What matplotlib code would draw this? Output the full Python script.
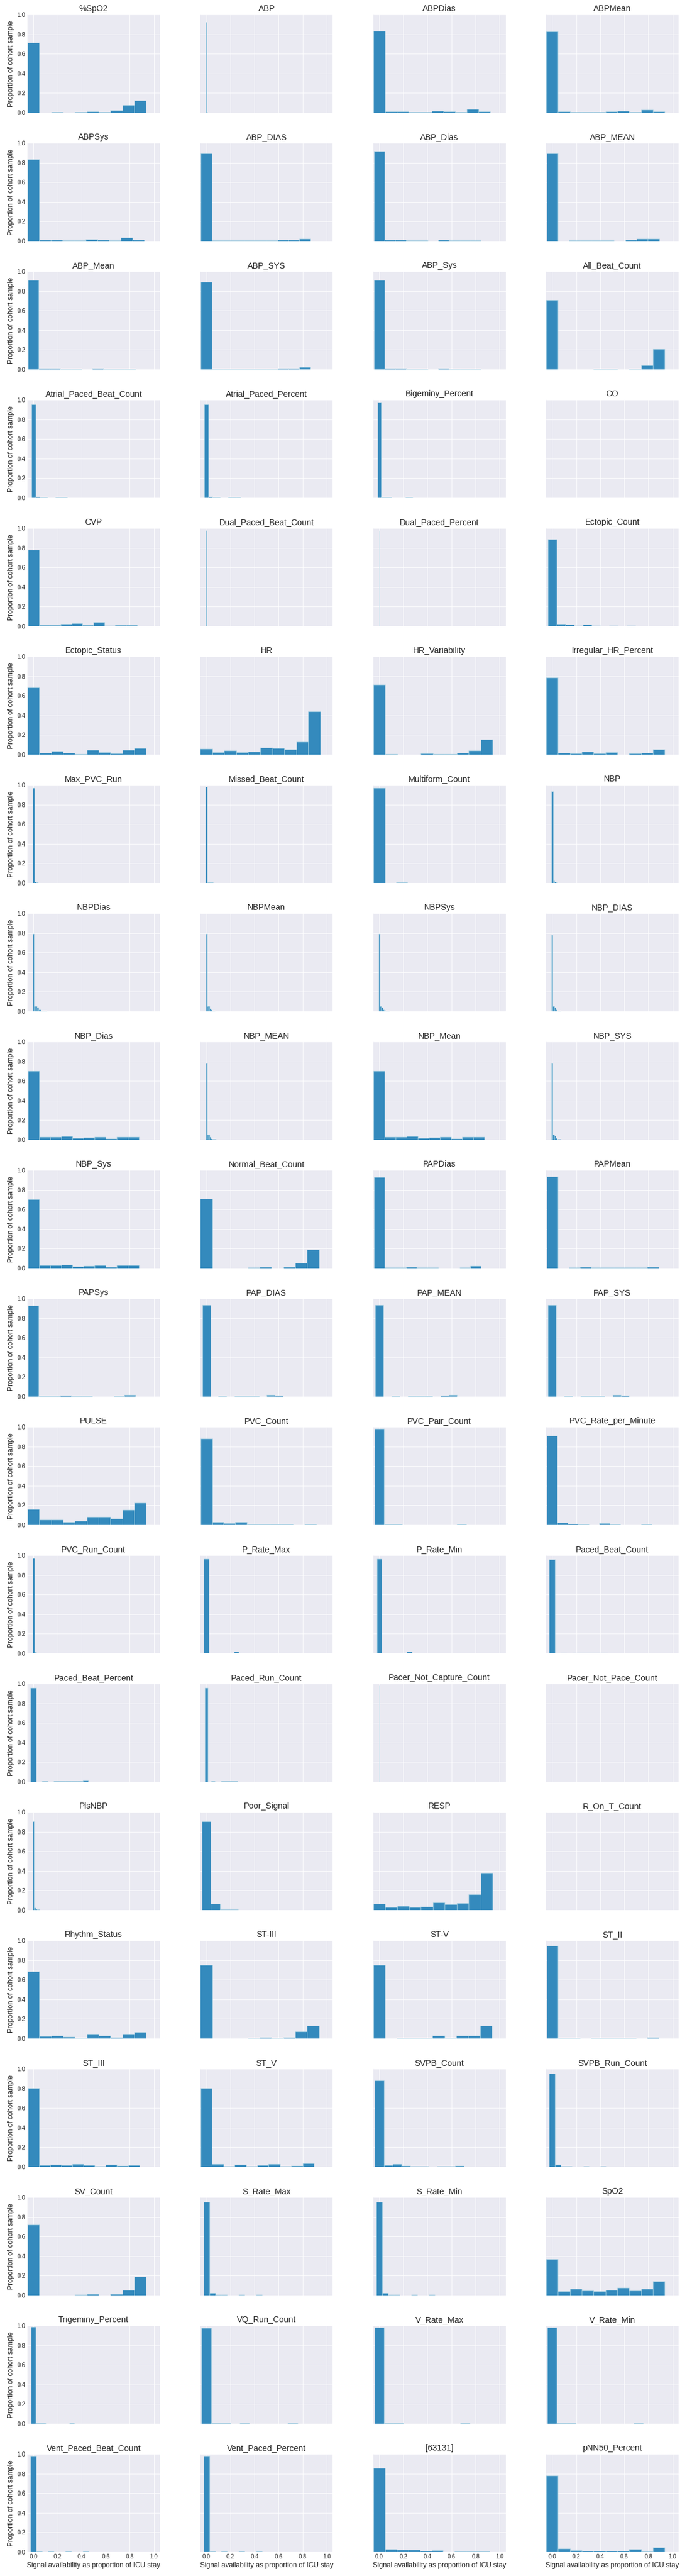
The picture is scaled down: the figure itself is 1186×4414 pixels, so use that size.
import numpy as np
import matplotlib
matplotlib.use("Agg")
import matplotlib.pyplot as plt

# Signal names, one panel each (4 per row)
signals = [
    "%SpO2", "ABP", "ABPDias", "ABPMean",
    "ABPSys", "ABP_DIAS", "ABP_Dias", "ABP_MEAN",
    "ABP_Mean", "ABP_SYS", "ABP_Sys", "All_Beat_Count",
    "Atrial_Paced_Beat_Count", "Atrial_Paced_Percent", "Bigeminy_Percent", "CO",
    "CVP", "Dual_Paced_Beat_Count", "Dual_Paced_Percent", "Ectopic_Count",
    "Ectopic_Status", "HR", "HR_Variability", "Irregular_HR_Percent",
    "Max_PVC_Run", "Missed_Beat_Count", "Multiform_Count", "NBP",
    "NBPDias", "NBPMean", "NBPSys", "NBP_DIAS",
    "NBP_Dias", "NBP_MEAN", "NBP_Mean", "NBP_SYS",
    "NBP_Sys", "Normal_Beat_Count", "PAPDias", "PAPMean",
    "PAPSys", "PAP_DIAS", "PAP_MEAN", "PAP_SYS",
    "PULSE", "PVC_Count", "PVC_Pair_Count", "PVC_Rate_per_Minute",
    "PVC_Run_Count", "P_Rate_Max", "P_Rate_Min", "Paced_Beat_Count",
    "Paced_Beat_Percent", "Paced_Run_Count", "Pacer_Not_Capture_Count", "Pacer_Not_Pace_Count",
    "PlsNBP", "Poor_Signal", "RESP", "R_On_T_Count",
    "Rhythm_Status", "ST-III", "ST-V", "ST_II",
    "ST_III", "ST_V", "SVPB_Count", "SVPB_Run_Count",
    "SV_Count", "S_Rate_Max", "S_Rate_Min", "SpO2",
    "Trigeminy_Percent", "VQ_Run_Count", "V_Rate_Max", "V_Rate_Min",
    "Vent_Paced_Beat_Count", "Vent_Paced_Percent", "[63131]", "pNN50_Percent",
]

# histogram bin width (signal availability) for each signal
bin_width = [
    0.0985, 0.003, 0.097, 0.0985,
    0.0965, 0.091, 0.089, 0.0935,
    0.089, 0.091, 0.089, 0.0985,
    0.033, 0.033, 0.029, 0.1,
    0.0905, 0.003, 0.003, 0.073,
    0.0985, 0.0995, 0.099, 0.0985,
    0.0145, 0.012, 0.094, 0.0125,
    0.0115, 0.0105, 0.011, 0.011,
    0.092, 0.0105, 0.092, 0.011,
    0.092, 0.0985, 0.089, 0.093,
    0.089, 0.067, 0.068, 0.067,
    0.0985, 0.096, 0.076, 0.087,
    0.0145, 0.0415, 0.0415, 0.0485,
    0.048, 0.027, 0.003, 0.1,
    0.011, 0.075, 0.099, 0.1,
    0.0985, 0.0985, 0.0985, 0.093,
    0.0925, 0.094, 0.074, 0.047,
    0.0985, 0.0485, 0.0485, 0.0985,
    0.04, 0.0795, 0.079, 0.0795,
    0.0485, 0.0485, 0.0965, 0.0985,
]

# proportion of cohort in each of the 10 bins
proportions = [
    [0.716, 0, 0.003, 0, 0.003, 0.012, 0.003, 0.024, 0.078, 0.125],
    [0.925, 0.003, 0.002, 0.001, 0, 0, 0, 0, 0, 0],
    [0.835, 0.012, 0.012, 0.003, 0.008, 0.02, 0.014, 0.007, 0.036, 0.014],
    [0.829, 0.012, 0.008, 0.008, 0.008, 0.012, 0.02, 0.008, 0.03, 0.014],
    [0.835, 0.014, 0.014, 0.004, 0.008, 0.02, 0.014, 0.008, 0.036, 0.014],
    [0.895, 0.003, 0.003, 0.003, 0.003, 0.003, 0.003, 0.012, 0.012, 0.024],
    [0.915, 0.012, 0.012, 0.003, 0.003, 0, 0.012, 0.003, 0.003, 0.008],
    [0.895, 0, 0.008, 0.003, 0.003, 0.003, 0, 0.014, 0.024, 0.024],
    [0.912, 0.012, 0.012, 0.003, 0.003, 0, 0.012, 0.003, 0.003, 0.008],
    [0.895, 0.003, 0.003, 0.003, 0.003, 0.003, 0.003, 0.012, 0.012, 0.024],
    [0.912, 0.012, 0.012, 0.003, 0.003, 0, 0.012, 0.003, 0.003, 0.008],
    [0.708, 0, 0, 0, 0.003, 0.006, 0, 0.006, 0.042, 0.207],
    [0.95, 0.01, 0.003, 0.003, 0, 0, 0.003, 0.003, 0.005, 0],
    [0.95, 0.01, 0.003, 0.003, 0, 0, 0.003, 0.003, 0.005, 0],
    [0.974, 0.005, 0.003, 0.003, 0, 0, 0, 0, 0.003, 0.003],
    [],
    [0.778, 0.014, 0.014, 0.026, 0.032, 0.014, 0.042, 0.008, 0.014, 0.014],
    [0.976, 0.002, 0, 0, 0, 0, 0, 0, 0, 0],
    [0.976, 0.002, 0, 0, 0, 0, 0, 0, 0, 0],
    [0.885, 0.026, 0.02, 0.008, 0.02, 0.003, 0, 0.003, 0, 0.003],
    [0.686, 0.02, 0.034, 0.02, 0.003, 0.05, 0.026, 0.012, 0.05, 0.068],
    [0.062, 0.026, 0.044, 0.026, 0.032, 0.074, 0.068, 0.056, 0.133, 0.441],
    [0.716, 0.006, 0.002, 0, 0.014, 0.008, 0.003, 0.02, 0.044, 0.157],
    [0.787, 0.02, 0.014, 0.032, 0.014, 0.026, 0, 0.012, 0.02, 0.052],
    [0.972, 0.01, 0.006, 0, 0, 0, 0, 0, 0, 0.002],
    [0.984, 0.003, 0.003, 0.003, 0.003, 0, 0, 0, 0, 0.002],
    [0.972, 0, 0.008, 0.002, 0.002, 0.002, 0, 0, 0, 0.002],
    [0.934, 0.024, 0.012, 0.004, 0.002, 0, 0, 0, 0, 0.002],
    [0.791, 0.052, 0.054, 0.04, 0.02, 0.02, 0.003, 0.003, 0.003, 0.003],
    [0.791, 0.052, 0.054, 0.03, 0.015, 0.003, 0.003, 0, 0, 0],
    [0.791, 0.052, 0.04, 0.02, 0.012, 0.003, 0.003, 0.003, 0, 0],
    [0.781, 0.052, 0.044, 0.016, 0, 0.003, 0.003, 0, 0, 0],
    [0.704, 0.03, 0.03, 0.036, 0.018, 0.024, 0.03, 0.012, 0.03, 0.03],
    [0.779, 0.054, 0.052, 0.03, 0.012, 0.003, 0.003, 0.003, 0, 0],
    [0.704, 0.03, 0.03, 0.036, 0.018, 0.024, 0.03, 0.012, 0.03, 0.03],
    [0.779, 0.052, 0.044, 0.016, 0, 0.003, 0.003, 0, 0, 0],
    [0.702, 0.03, 0.03, 0.036, 0.018, 0.024, 0.03, 0.012, 0.03, 0.03],
    [0.71, 0, 0, 0, 0.003, 0.014, 0, 0.014, 0.056, 0.193],
    [0.928, 0.003, 0.003, 0.014, 0.003, 0.008, 0, 0, 0.003, 0.022],
    [0.934, 0, 0.003, 0.014, 0.003, 0.003, 0.003, 0.003, 0.003, 0.014],
    [0.93, 0.003, 0.003, 0.012, 0.003, 0.008, 0, 0, 0.003, 0.02],
    [0.936, 0, 0.003, 0, 0.003, 0.008, 0.003, 0, 0.02, 0.012],
    [0.936, 0, 0.003, 0, 0.003, 0.008, 0.003, 0, 0.014, 0.02],
    [0.936, 0, 0.003, 0, 0.003, 0.008, 0.003, 0, 0.02, 0.014],
    [0.163, 0.056, 0.056, 0.032, 0.044, 0.085, 0.085, 0.068, 0.157, 0.229],
    [0.883, 0.032, 0.02, 0.028, 0.003, 0.003, 0.003, 0.008, 0, 0.003],
    [0.984, 0.008, 0.003, 0, 0, 0, 0, 0, 0, 0.003],
    [0.912, 0.026, 0.014, 0.008, 0, 0.02, 0.003, 0, 0, 0.003],
    [0.968, 0.01, 0.006, 0, 0, 0, 0, 0, 0, 0.002],
    [0.964, 0, 0.002, 0, 0, 0.002, 0.018, 0, 0, 0.002],
    [0.964, 0, 0.002, 0, 0, 0.002, 0.018, 0, 0, 0.002],
    [0.958, 0, 0.003, 0, 0.003, 0.003, 0.003, 0.003, 0.003, 0.008],
    [0.96, 0, 0.003, 0, 0.003, 0.003, 0.003, 0.003, 0.003, 0.01],
    [0.96, 0, 0.008, 0, 0, 0.003, 0.003, 0.003, 0.003, 0.003],
    [0.984, 0.002, 0, 0, 0, 0, 0, 0, 0, 0],
    [],
    [0.905, 0.026, 0.012, 0.008, 0.003, 0, 0, 0, 0, 0],
    [0.905, 0.066, 0.008, 0.008, 0, 0, 0, 0, 0, 0.002],
    [0.066, 0.03, 0.042, 0.03, 0.036, 0.078, 0.06, 0.072, 0.161, 0.382],
    [],
    [0.686, 0.026, 0.032, 0.02, 0.003, 0.05, 0.032, 0.012, 0.05, 0.068],
    [0.753, 0, 0, 0, 0.003, 0.012, 0.003, 0.012, 0.074, 0.133],
    [0.753, 0, 0.003, 0.003, 0.003, 0.032, 0.008, 0.032, 0.032, 0.129],
    [0.948, 0.003, 0.008, 0, 0.003, 0.003, 0.003, 0.003, 0, 0.014],
    [0.805, 0.018, 0.024, 0.02, 0.03, 0.02, 0.008, 0.024, 0.014, 0.02],
    [0.805, 0.03, 0.003, 0.024, 0.008, 0.02, 0.03, 0.003, 0.014, 0.036],
    [0.883, 0.018, 0.03, 0.014, 0.003, 0.003, 0, 0.008, 0.008, 0.014],
    [0.954, 0.024, 0.003, 0.003, 0, 0, 0.003, 0, 0, 0.003],
    [0.718, 0, 0, 0, 0.003, 0.012, 0, 0.012, 0.056, 0.193],
    [0.954, 0.026, 0.003, 0.003, 0, 0, 0.003, 0, 0, 0.003],
    [0.954, 0.026, 0.003, 0.003, 0, 0, 0.003, 0, 0, 0.003],
    [0.372, 0.044, 0.068, 0.05, 0.044, 0.056, 0.08, 0.05, 0.068, 0.145],
    [0.99, 0.003, 0.003, 0, 0, 0, 0, 0, 0.003, 0],
    [0.978, 0.008, 0.003, 0, 0.003, 0, 0, 0, 0, 0.003],
    [0.984, 0.008, 0.003, 0, 0, 0, 0, 0, 0, 0.003],
    [0.984, 0.008, 0.003, 0, 0, 0, 0, 0, 0, 0.003],
    [0.98, 0.003, 0, 0.003, 0, 0, 0.003, 0, 0, 0.008],
    [0.98, 0.003, 0, 0.003, 0, 0, 0.003, 0, 0, 0.008],
    [0.859, 0.03, 0.024, 0.024, 0.012, 0.018, 0, 0.003, 0.008, 0.003],
    [0.781, 0.036, 0.018, 0.012, 0.012, 0.012, 0.012, 0.03, 0.006, 0.048],
]

plt.style.use("seaborn-v0_8-darkgrid")
plt.rcParams["axes.titlesize"] = 14.4
plt.rcParams["axes.labelsize"] = 12
plt.rcParams["xtick.labelsize"] = 10
plt.rcParams["ytick.labelsize"] = 10

nrows, ncols = 20, 4
fig, axes = plt.subplots(nrows, ncols, sharex=True, sharey=True,
                         figsize=(1186 / 72, 4414 / 72), dpi=72)
fig.subplots_adjust(left=0.0396, right=0.9806, top=0.99434, bottom=0.00929,
                    wspace=0.305, hspace=0.31)

for i, ax in enumerate(axes.flat):
    h = proportions[i]
    w = bin_width[i]
    if len(h) > 0:
        x = np.arange(len(h)) * w
        ax.bar(x, h, width=w, color="#348ABD", edgecolor="lightblue", linewidth=0.5)
    ax.set_title(signals[i])
    ax.set_xlim(-0.05, 1.05)
    ax.set_ylim(0, 1.0)
    if i % ncols == 0:
        ax.set_ylabel("Proportion of cohort sample")
    if i // ncols == nrows - 1:
        ax.set_xlabel("Signal availability as proportion of ICU stay")

axes[0, 0].set_xticks(np.arange(0, 1.01, 0.2))
axes[0, 0].set_yticks(np.arange(0, 1.01, 0.2))

fig.savefig("out.png", dpi=72)
